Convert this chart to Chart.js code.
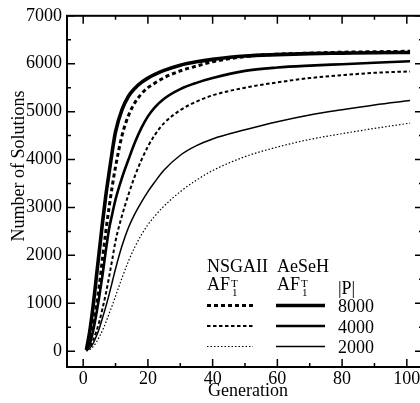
<!DOCTYPE html>
<html>
<head>
<meta charset="utf-8">
<title>Number of Solutions</title>
<script src="https://cdn.jsdelivr.net/npm/chart.js@4.4.0/dist/chart.umd.min.js"></script>
<style>
  html, body { margin: 0; padding: 0; background: #fff; overflow: hidden; }
  #wrap { width: 426px; height: 403px; }
</style>
</head>
<body>
<div id="wrap"><canvas id="solutionsChart" width="426" height="403"></canvas></div>
<script>
const generations = [1, 2, 3, 4, 5, 6, 7, 8, 9, 10, 12, 14, 16, 18, 20, 22, 25, 30, 35, 40, 50, 60, 70, 80, 90, 101];

const aeseh8000 = [30, 400, 900, 1500, 2100, 2700, 3250, 3720, 4180, 4580, 5040, 5320, 5490, 5610, 5700, 5770, 5860, 5970, 6040, 6090, 6160, 6190, 6210, 6220, 6230, 6235];
const nsga8000 = [20, 200, 500, 900, 1380, 1950, 2500, 3000, 3450, 3850, 4500, 4920, 5190, 5370, 5500, 5590, 5710, 5850, 5950, 6040, 6150, 6200, 6220, 6240, 6250, 6260];
const aeseh4000 = [20, 150, 400, 750, 1150, 1600, 2100, 2550, 2870, 3170, 3620, 4000, 4360, 4660, 4900, 5080, 5270, 5470, 5600, 5700, 5850, 5920, 5960, 5990, 6020, 6050];
const nsga4000 = [15, 80, 220, 400, 620, 900, 1200, 1550, 1920, 2300, 2830, 3270, 3660, 3990, 4270, 4500, 4760, 5030, 5210, 5340, 5500, 5610, 5700, 5760, 5810, 5840];
const aeseh2000 = [10, 60, 150, 300, 480, 700, 930, 1180, 1450, 1720, 2200, 2580, 2870, 3110, 3330, 3520, 3780, 4090, 4290, 4430, 4620, 4790, 4930, 5040, 5140, 5230];
const nsga2000 = [5, 30, 90, 180, 300, 440, 600, 780, 960, 1150, 1530, 1880, 2180, 2430, 2640, 2810, 3030, 3330, 3570, 3770, 4060, 4260, 4420, 4540, 4650, 4760];

const xTicks = [0, 20, 40, 60, 80, 100];
const xMinorTicks = [10, 30, 50, 70, 90];
const yTicks = [0, 1000, 2000, 3000, 4000, 5000, 6000, 7000];
const yMinorTicks = [500, 1500, 2500, 3500, 4500, 5500, 6500];
const populations = ['8000', '4000', '2000'];

const FONT = 'Liberation Serif, Times New Roman, serif';

function toPoints(values) {
    return values.map((v, i) => ({ x: generations[i], y: v }));
}

function line(label, values, width, dash) {
    return {
        label: label,
        data: toPoints(values),
        borderColor: '#000',
        borderWidth: width,
        borderDash: dash,
        pointRadius: 0,
        fill: false,
        cubicInterpolationMode: 'monotone'
    };
}

const datasets = [
    line('NSGAII 2000', nsga2000, 1.2, [1.5, 2]),
    line('AeSeH 2000', aeseh2000, 1.5, []),
    line('NSGAII 4000', nsga4000, 2, [3.5, 2.5]),
    line('AeSeH 4000', aeseh4000, 2.6, []),
    line('NSGAII 8000', nsga8000, 3, [4, 3]),
    line('AeSeH 8000', aeseh8000, 3.6, [])
];

// frame with inward ticks on all four sides, axis titles
const frameTicks = {
    id: 'frameTicks',
    afterDatasetsDraw(chart) {
        const { ctx, chartArea: a, scales: { x, y } } = chart;
        ctx.save();
        ctx.strokeStyle = '#000';
        ctx.lineWidth = 2;
        ctx.strokeRect(a.left, a.top, a.right - a.left, a.bottom - a.top);

        ctx.lineWidth = 1.5;
        ctx.beginPath();
        const xMarks = xTicks.map(v => [v, 8]).concat(xMinorTicks.map(v => [v, 4]));
        xMarks.forEach(([v, len]) => {
            const px = x.getPixelForValue(v);
            ctx.moveTo(px, a.bottom); ctx.lineTo(px, a.bottom - len);
            ctx.moveTo(px, a.top); ctx.lineTo(px, a.top + len);
        });
        const yMarks = yTicks.map(v => [v, 8]).concat(yMinorTicks.map(v => [v, 4]));
        yMarks.forEach(([v, len]) => {
            const py = y.getPixelForValue(v);
            ctx.moveTo(a.left, py); ctx.lineTo(a.left + len, py);
            ctx.moveTo(a.right, py); ctx.lineTo(a.right - len, py);
        });
        ctx.stroke();

        ctx.fillStyle = '#000';
        ctx.font = '18px ' + FONT;
        ctx.textAlign = 'center';
        ctx.textBaseline = 'alphabetic';
        ctx.fillText('Generation', 248, 395.5);
        ctx.translate(24, 166);
        ctx.rotate(-Math.PI / 2);
        ctx.fillText('Number of Solutions', 0, 0);
        ctx.restore();
    }
};

function drawAF(ctx, left, baseline) {
    ctx.font = '18px ' + FONT;
    ctx.fillText('AF', left, baseline);
    const w = ctx.measureText('AF').width;
    ctx.font = '11px ' + FONT;
    ctx.fillText('T', left + w + 1, baseline - 3);
    ctx.fillText('1', left + w + 2, baseline + 6);
}

const lineLegend = {
    id: 'lineLegend',
    afterDraw(chart) {
        const ctx = chart.ctx;
        const ds = chart.data.datasets;
        ctx.save();
        ctx.fillStyle = '#000';
        ctx.textAlign = 'left';
        ctx.textBaseline = 'alphabetic';
        ctx.font = '18px ' + FONT;
        ctx.fillText('NSGAII', 207, 271.5);
        ctx.fillText('AeSeH', 277, 271.5);
        drawAF(ctx, 207, 289.5);
        drawAF(ctx, 277, 289.5);
        ctx.font = '18px ' + FONT;
        ctx.fillText('|P|', 338, 294);

        const rowY = [305.5, 326, 346.5];
        populations.forEach((p, i) => {
            const nsga = ds.find(d => d.label === 'NSGAII ' + p);
            const aeseh = ds.find(d => d.label === 'AeSeH ' + p);
            [[nsga, 207, 253], [aeseh, 276, 325]].forEach(([d, x0, x1]) => {
                ctx.beginPath();
                ctx.strokeStyle = d.borderColor;
                ctx.lineWidth = d.borderWidth;
                ctx.setLineDash(d.borderDash);
                ctx.moveTo(x0, rowY[i]);
                ctx.lineTo(x1, rowY[i]);
                ctx.stroke();
            });
            ctx.setLineDash([]);
            ctx.font = '18px ' + FONT;
            ctx.fillText(p, 338, rowY[i] + 6.5);
        });
        ctx.restore();
    }
};

const ctx = document.getElementById('solutionsChart').getContext('2d');
new Chart(ctx, {
    type: 'line',
    data: { datasets: datasets },
    options: {
        responsive: false,
        animation: false,
        devicePixelRatio: 1,
        layout: { padding: { top: 11, right: 3, left: 0, bottom: 0 } },
        plugins: {
            legend: { display: false },
            tooltip: { enabled: false }
        },
        scales: {
            x: {
                type: 'linear',
                min: -5,
                max: 105,
                grid: { display: false, drawTicks: false },
                border: { display: false },
                ticks: { color: '#000', padding: 1, font: { family: FONT, size: 18 }, callback: v => String(v) },
                afterBuildTicks: s => { s.ticks = xTicks.map(v => ({ value: v })); },
                afterFit: s => { s.height = 36; }
            },
            y: {
                type: 'linear',
                min: -330,
                max: 7000,
                grid: { display: false, drawTicks: false },
                border: { display: false },
                ticks: { color: '#000', padding: 5, font: { family: FONT, size: 18 }, callback: v => String(v) },
                afterBuildTicks: s => { s.ticks = yTicks.map(v => ({ value: v })); },
                afterFit: s => { s.width = 67; }
            }
        }
    },
    plugins: [frameTicks, lineLegend]
});
</script>
</body>
</html>
